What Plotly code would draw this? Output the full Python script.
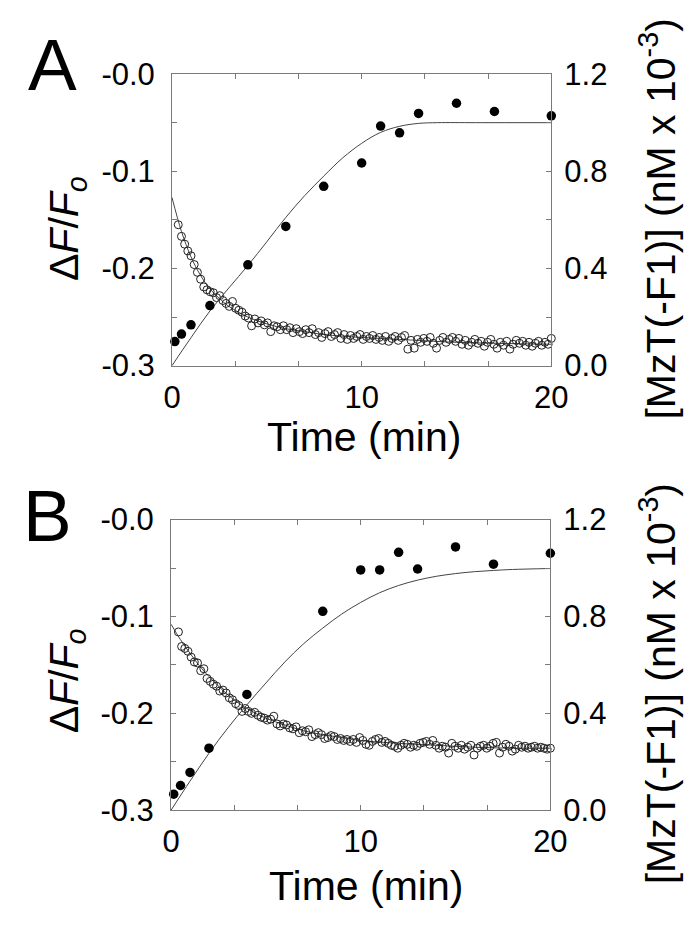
import numpy as np
import plotly.graph_objects as go

W, H = 698, 927

# ---------------- data ----------------
# Panel A: [MzT(-F1)] (filled circles, right axis)
tA_mzt = [0.15, 0.5, 1.0, 2.0, 4.0, 6.0, 8.0, 10.0, 11.0, 12.0, 13.0, 15.0, 17.0, 20.0]
A_mzt = [0.099, 0.13, 0.168, 0.247, 0.415, 0.573, 0.738, 0.834, 0.986, 0.958, 1.038, 1.08, 1.046, 1.028]
# Panel A: fitted curve for MzT
tA_fit_mzt = [0, 1, 2, 3, 4, 5, 6, 7, 8, 9, 10, 11, 12, 13, 14, 16, 20]
A_fit_mzt = [0.0, 0.115, 0.225, 0.32, 0.412, 0.51, 0.61, 0.70, 0.78, 0.855, 0.915, 0.96, 0.985, 0.997, 1.0, 1.0, 1.0]
# Panel A: dF/Fo (open circles, left axis), sampled from t=0.33 to 20 min
A_dF = [-0.155, -0.167, -0.175, -0.182, -0.187, -0.196, -0.204, -0.211, -0.219, -0.222,
        -0.224, -0.225, -0.230, -0.228, -0.233, -0.236, -0.239, -0.234, -0.241, -0.243,
        -0.245, -0.249, -0.251, -0.259, -0.252, -0.256, -0.254, -0.258, -0.256, -0.265,
        -0.259, -0.260, -0.263, -0.259, -0.263, -0.261, -0.266, -0.262, -0.265, -0.267,
        -0.263, -0.266, -0.262, -0.268, -0.266, -0.271, -0.267, -0.265, -0.270, -0.268,
        -0.266, -0.272, -0.268, -0.273, -0.269, -0.272, -0.270, -0.268, -0.273, -0.270,
        -0.272, -0.269, -0.273, -0.271, -0.274, -0.270, -0.275, -0.272, -0.270, -0.274,
        -0.271, -0.269, -0.283, -0.274, -0.282, -0.273, -0.276, -0.272, -0.275, -0.271,
        -0.277, -0.282, -0.274, -0.271, -0.276, -0.273, -0.271, -0.275, -0.272, -0.278,
        -0.274, -0.279, -0.276, -0.273, -0.277, -0.275, -0.280, -0.276, -0.273, -0.278,
        -0.282, -0.276, -0.279, -0.275, -0.283, -0.278, -0.274, -0.277, -0.275, -0.279,
        -0.276, -0.280, -0.277, -0.275, -0.279, -0.276, -0.278, -0.272]
tA_dF = list(np.linspace(0.33, 20.0, len(A_dF)))
# Panel A: fitted curve for dF/Fo
tA_fit_dF = [0, 0.5, 1, 1.5, 2, 2.5, 3, 4, 5, 6, 7, 8, 10, 12, 15, 20]
A_fit_dF = [-0.127, -0.162, -0.188, -0.207, -0.221, -0.231, -0.239, -0.250, -0.257, -0.262,
            -0.265, -0.268, -0.271, -0.273, -0.276, -0.278]

# Panel B
tB_mzt = [0.14, 0.5, 1.0, 2.0, 4.0, 8.0, 10.0, 11.0, 12.0, 13.0, 15.0, 17.0, 20.0]
B_mzt = [0.066, 0.102, 0.156, 0.256, 0.478, 0.821, 0.992, 0.992, 1.065, 0.996, 1.087, 1.016, 1.061]
tB_fit_mzt = [0, 1, 2, 3, 4, 5, 6, 7, 8, 9, 10, 11, 12, 13, 14, 15, 16, 17, 18, 20]
B_fit_mzt = [0.0, 0.12, 0.235, 0.34, 0.435, 0.525, 0.612, 0.688, 0.752, 0.81, 0.858, 0.898,
             0.928, 0.95, 0.966, 0.977, 0.985, 0.99, 0.994, 0.998]
B_dF = [-0.116, -0.131, -0.133, -0.136, -0.142, -0.147, -0.148, -0.156, -0.154, -0.164,
        -0.167, -0.170, -0.172, -0.177, -0.176, -0.179, -0.184, -0.186, -0.190, -0.192,
        -0.198, -0.195, -0.198, -0.200, -0.199, -0.202, -0.204, -0.205, -0.207, -0.206,
        -0.203, -0.211, -0.213, -0.211, -0.212, -0.215, -0.216, -0.214, -0.220, -0.218,
        -0.219, -0.217, -0.224, -0.222, -0.220, -0.222, -0.226, -0.225, -0.223, -0.224,
        -0.227, -0.226, -0.228, -0.227, -0.229, -0.227, -0.230, -0.225, -0.228, -0.232,
        -0.233, -0.229, -0.227, -0.226, -0.230, -0.229, -0.231, -0.233, -0.234, -0.236,
        -0.233, -0.231, -0.232, -0.235, -0.233, -0.234, -0.231, -0.230, -0.229, -0.232,
        -0.228, -0.233, -0.236, -0.234, -0.235, -0.241, -0.231, -0.234, -0.236, -0.233,
        -0.237, -0.235, -0.233, -0.243, -0.236, -0.234, -0.233, -0.236, -0.234, -0.231,
        -0.230, -0.241, -0.235, -0.232, -0.234, -0.239, -0.237, -0.233, -0.235, -0.234,
        -0.236, -0.235, -0.234, -0.236, -0.235, -0.236, -0.237, -0.236]
tB_dF = list(np.linspace(0.39, 20.0, len(B_dF)))
tB_fit_dF = [0, 0.5, 1, 1.5, 2, 3, 4, 5, 6, 7, 8, 9, 10, 12, 14, 16, 18, 20]
B_fit_dF = [-0.108, -0.124, -0.138, -0.151, -0.162, -0.181, -0.195, -0.205, -0.212, -0.218,
            -0.222, -0.225, -0.228, -0.231, -0.233, -0.235, -0.236, -0.236]

x_tickvals = [0, 10, 20]
x_ticktext = ["0", "10", "20"]
x_minorvals = [20 / 6, 40 / 6, 80 / 6, 100 / 6]
left_tickvals = [-0.3, -0.2, -0.1, 0.0]
left_ticktext = ["-0.3", "-0.2", "-0.1", "-0.0"]
left_minorvals = [-0.25, -0.15, -0.05]
right_tickvals = [0.0, 0.4, 0.8, 1.2]
right_ticktext = ["0.0", "0.4", "0.8", "1.2"]

# ---------------- styling ----------------
FONT = "Liberation Sans, Arial, Helvetica, sans-serif"
AXC = "#7a7a7a"
TICKFS = 31
TITLEFS = 41

def px(x):
    return x / W

def py(y):
    return 1 - y / H

# plot rectangles (pixels)
A_box = dict(l=161, r=555, t=51, b=354)
B_box = dict(l=160, r=554, t=514, b=816)

fig = go.Figure()

def add_panel(fig, xa, ya, ya2, t_mzt, mzt, tfm, fm, t_dF, dF, tfd, fd):
    fig.add_trace(go.Scatter(x=tfd, y=fd, mode="lines", line=dict(color="#444", width=1, shape="spline"),
                             xaxis=xa, yaxis=ya, cliponaxis=False, showlegend=False))
    fig.add_trace(go.Scatter(x=t_dF, y=dF, mode="markers",
                             marker=dict(symbol="circle-open", size=8, color="#222", line=dict(width=1)),
                             xaxis=xa, yaxis=ya, cliponaxis=False, showlegend=False))
    fig.add_trace(go.Scatter(x=tfm, y=fm, mode="lines", line=dict(color="#444", width=1, shape="spline"),
                             xaxis=xa, yaxis=ya2, cliponaxis=False, showlegend=False))
    fig.add_trace(go.Scatter(x=t_mzt, y=mzt, mode="markers",
                             marker=dict(symbol="circle", size=9.5, color="black"),
                             xaxis=xa, yaxis=ya2, cliponaxis=False, showlegend=False))

add_panel(fig, "x", "y", "y2", tA_mzt, A_mzt, tA_fit_mzt, A_fit_mzt, tA_dF, A_dF, tA_fit_dF, A_fit_dF)
add_panel(fig, "x2", "y3", "y4", tB_mzt, B_mzt, tB_fit_mzt, B_fit_mzt, tB_dF, B_dF, tB_fit_dF, B_fit_dF)

def xaxis_cfg(box, anchor):
    return dict(domain=[px(box["l"]), px(box["r"])], anchor=anchor, range=[0, 20],
                tickmode="array", tickvals=x_tickvals, ticktext=x_ticktext,
                ticks="inside", ticklen=5, tickcolor=AXC, tickwidth=1,
                minor=dict(tickmode="array", tickvals=x_minorvals, ticks="inside", ticklen=5,
                           tickcolor=AXC, tickwidth=1, showgrid=False),
                showline=True, linecolor=AXC, linewidth=1,
                mirror="ticks", showgrid=False, zeroline=False,
                tickfont=dict(family=FONT, size=TICKFS, color="black"), ticklabelstandoff=4)

def yleft_cfg(box, anchor):
    return dict(domain=[py(box["b"]), py(box["t"])], anchor=anchor, range=[-0.3, 0.0],
                tickmode="array", tickvals=left_tickvals, ticktext=left_ticktext,
                ticks="inside", ticklen=5, tickcolor=AXC, tickwidth=1,
                minor=dict(tickmode="array", tickvals=left_minorvals, ticks="inside", ticklen=5,
                           tickcolor=AXC, tickwidth=1, showgrid=False),
                showline=True, linecolor=AXC, linewidth=1,
                mirror="ticks", showgrid=False, zeroline=False,
                tickfont=dict(family=FONT, size=TICKFS, color="black"), ticklabelstandoff=10)

def yright_cfg(overlay, anchor):
    return dict(overlaying=overlay, anchor=anchor, side="right", range=[0, 1.2],
                tickmode="array", tickvals=right_tickvals, ticktext=right_ticktext,
                ticks="", showline=False, showgrid=False, zeroline=False,
                tickfont=dict(family=FONT, size=TICKFS, color="black"), ticklabelstandoff=12)

fig.update_layout(
    width=W, height=H, margin=dict(l=0, r=0, t=0, b=0),
    paper_bgcolor="white", plot_bgcolor="white", showlegend=False,
    xaxis=xaxis_cfg(A_box, "y"),
    yaxis=yleft_cfg(A_box, "x"),
    yaxis2=yright_cfg("y", "x"),
    xaxis2=xaxis_cfg(B_box, "y3"),
    yaxis3=yleft_cfg(B_box, "x2"),
    yaxis4=yright_cfg("y3", "x2"),
)

annots = []
def ann(text, x, y, size, angle=0):
    annots.append(dict(text=text, x=px(x), y=py(y), xref="paper", yref="paper",
                       xanchor="center", yanchor="middle", showarrow=False, textangle=angle,
                       font=dict(family=FONT, size=size, color="black")))

# panel letters
ann("A", 37, 41, 73)
ann("B", 32, 510, 73)
# x titles
ann("Time (min)", 360, 428, TITLEFS)
ann("Time (min)", 362, 895, TITLEFS)
# left titles
dF_title = "Δ<i>F</i>/<i>F</i><sub><i>o</i></sub>"
ann(dF_title, 52, 212, TITLEFS, -90)
ann(dF_title, 52, 682, TITLEFS, -90)
# right titles
r_title = "[MzT(-F1)] (nM x 10<sup>-3</sup>)"
ann(r_title, 666, 202, TITLEFS, -90)
ann(r_title, 666, 685, TITLEFS, -90)

fig.update_layout(annotations=annots)
fig.write_html("out.html")
